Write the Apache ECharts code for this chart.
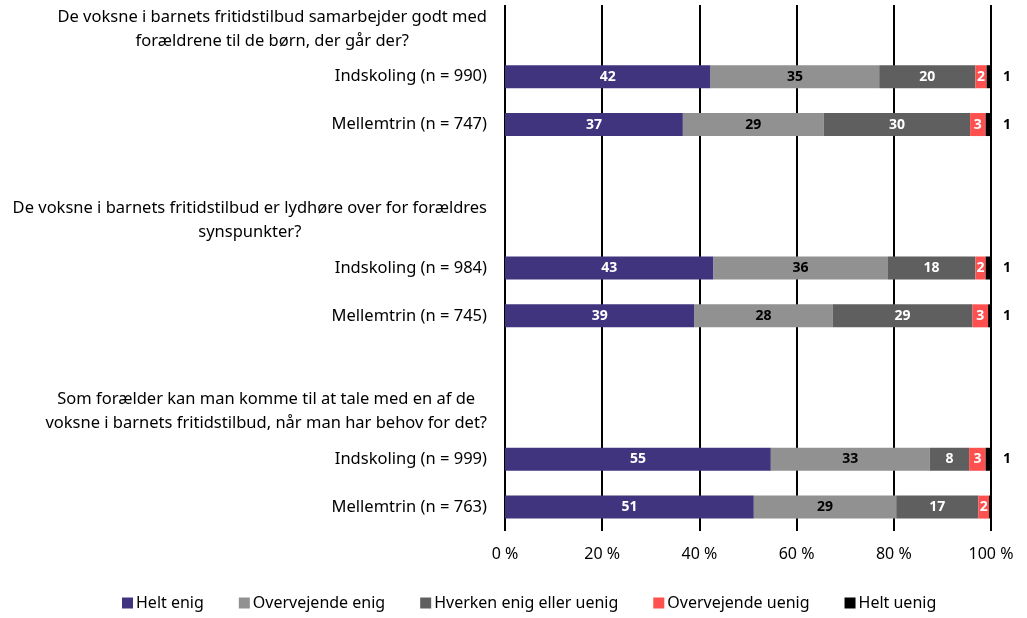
<!DOCTYPE html>
<html>
<head>
<meta charset="utf-8">
<script src="https://cdn.jsdelivr.net/npm/echarts@6/dist/echarts.min.js"></script>
<style>
  html, body { margin: 0; padding: 0; background: #fff; }
  #chart { width: 1027px; height: 618px; }
</style>
</head>
<body>
<div id="chart"></div>
<script>
// spørgsmål (overskriftsrækker) og grupper
var categories = [
  'De voksne i barnets fritidstilbud samarbejder godt med\nforældrene til de børn, der går der?',
  'Indskoling (n = 990)',
  'Mellemtrin (n = 747)',
  ' ',
  'De voksne i barnets fritidstilbud er lydhøre over for forældres\nsynspunkter?',
  'Indskoling (n = 984)',
  'Mellemtrin (n = 745)',
  '  ',
  'Som forælder kan man komme til at tale med en af de\nvoksne i barnets fritidstilbud, når man har behov for det?',
  'Indskoling (n = 999)',
  'Mellemtrin (n = 763)'
];
var seriesNames = ['Helt enig', 'Overvejende enig', 'Hverken enig eller uenig', 'Overvejende uenig', 'Helt uenig'];
// procenter, null = overskrift/tom række
var heltEnig         = [null, 42.3, 36.6, null, null, 42.9, 39.0, null, null, 54.7, 51.2];
var overvejendeEnig  = [null, 34.7, 29.0, null, null, 35.8, 28.4, null, null, 32.7, 29.3];
var hverken          = [null, 19.8, 30.1, null, null, 18.1, 28.8, null, null, 8.1, 16.9];
var overvejendeUenig = [null, 2.3, 3.2, null, null, 2.1, 3.2, null, null, 3.4, 2.2];
var heltUenig        = [null, 0.9, 1.1, null, null, 1.1, 0.6, null, null, 1.1, 0.4];

var colors = ['#41347f', '#919191', '#5f5f5f', '#ff5050', '#000000'];
var labelColors = ['#fff', '#000', '#fff', '#fff', '#000'];
var FONT = 'Noto Sans';

function labelFmt(p) {
  if (p.value == null) return '';
  var r = Math.round(p.value);
  return r === 0 ? '' : String(r);
}

var allData = [heltEnig, overvejendeEnig, hverken, overvejendeUenig, heltUenig];
var series = allData.map(function (d, i) {
  return {
    name: seriesNames[i],
    type: 'bar',
    stack: 'total',
    data: d,
    barWidth: 23,
    itemStyle: { color: colors[i] },
    label: {
      show: true,
      position: i === 4 ? 'right' : 'inside',
      distance: 12,
      color: labelColors[i],
      fontFamily: FONT,
      fontSize: 14,
      fontWeight: 'bold',
      formatter: labelFmt
    }
  };
});

var chart = echarts.init(document.getElementById('chart'));
chart.setOption({
  animation: false,
  textStyle: { fontFamily: FONT },
  grid: { left: 505, right: 36, top: 5, bottom: 87, containLabel: false },
  legend: {
    bottom: 2,
    left: 117,
    icon: 'rect',
    itemWidth: 11,
    itemHeight: 11,
    itemGap: 35,
    textStyle: { fontFamily: FONT, fontSize: 16, color: '#000', padding: [0, 0, 0, -2] },
    data: seriesNames
  },
  xAxis: {
    type: 'value',
    min: 0,
    max: 100,
    interval: 20,
    axisLine: { show: false },
    axisTick: { show: false },
    splitLine: { show: true, lineStyle: { color: '#000', width: 2 } },
    axisLabel: { formatter: '{value} %', color: '#000', fontSize: 16, margin: 15, fontFamily: FONT }
  },
  yAxis: {
    type: 'category',
    inverse: true,
    data: categories,
    axisLine: { show: false },
    axisTick: { show: false },
    axisLabel: {
      color: '#000',
      fontSize: 16.5,
      fontFamily: FONT,
      margin: 18,
      lineHeight: 24,
      formatter: function (v) {
        if (v.indexOf('\n') < 0) return v;
        return v.split('\n').map(function (l) { return '{c|' + l + '}'; }).join('\n');
      },
      rich: { c: { align: 'center', fontSize: 16.5, fontFamily: FONT, color: '#000', lineHeight: 24 } }
    }
  },
  series: series
});
</script>
</body>
</html>
